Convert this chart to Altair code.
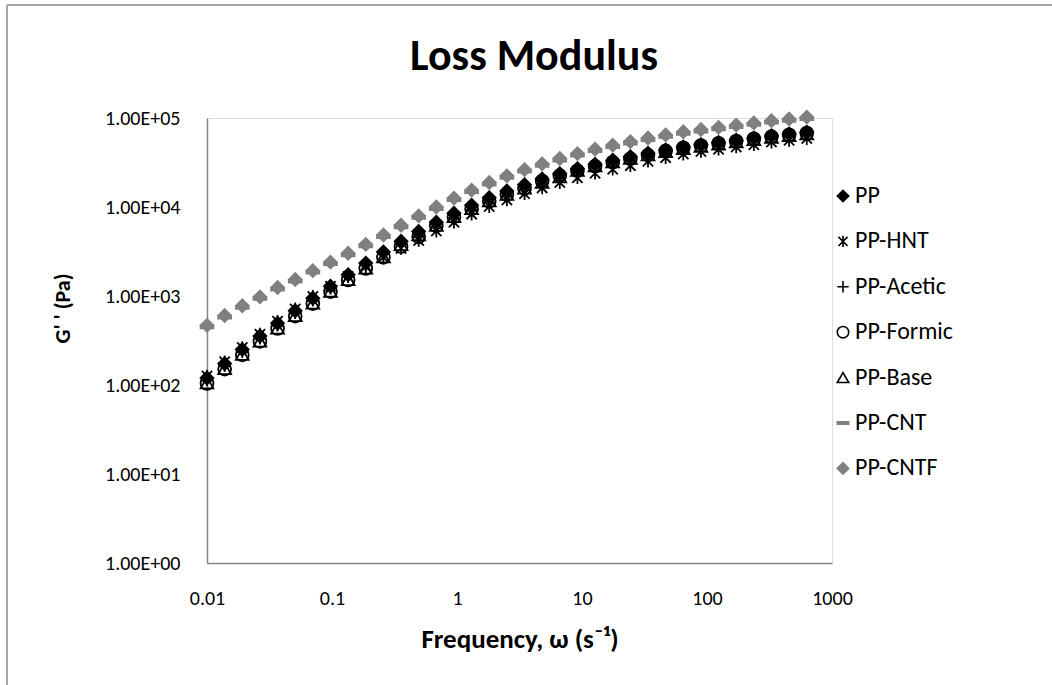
import altair as alt
import pandas as pd

# angular frequency (rad/s)
freq = [0.01, 0.01384, 0.01915, 0.02651, 0.03668, 0.05076, 0.07025, 0.09723,
        0.1346, 0.1863, 0.2578, 0.3567, 0.4937, 0.6832, 0.9456, 1.309, 1.811,
        2.506, 3.469, 4.800, 6.643, 9.194, 12.72, 17.61, 24.37, 33.73, 46.68,
        64.60, 89.41, 123.7, 171.2, 237.0, 328.0, 453.9, 628.3]

# loss modulus G'' (Pa)
pp = [120, 174, 251, 355, 495, 684, 944, 1288, 1738, 2344, 3126, 4121, 5309,
      6761, 8511, 10470, 12740, 15140, 17780, 20650, 23710, 26920, 30200, 33500,
      36730, 40270, 43650, 47320, 50120, 53090, 56230, 59570, 63100, 66070, 69180]
pp_hnt = [126, 182, 263, 372, 519, 716, 989, 1288, 1660, 2138, 2723, 3428, 4217,
          5370, 6761, 8318, 10120, 12020, 14130, 16410, 18840, 21380, 23990, 26610,
          29170, 32730, 35890, 39360, 42170, 44670, 47320, 50120, 53700, 56230, 58880]
pp_acetic = [114, 165, 238, 337, 470, 650, 897, 1224, 1651, 2227, 2970, 3915, 5044,
             6423, 8085, 9947, 12100, 14380, 16890, 19620, 22520, 25570, 28690, 31830,
             34890, 38260, 41470, 44950, 47610, 50440, 53420, 56590, 59950, 62770, 65720]
pp_formic = [104, 151, 218, 309, 431, 595, 821, 1121, 1512, 2039, 2720, 3585, 4619,
             6153, 7745, 9528, 11590, 13780, 16180, 19620, 22520, 25570, 28690, 31830,
             34890, 38260, 42780, 46370, 49120, 52030, 55110, 58380, 61840, 64750, 67800]
pp_base = [106, 153, 221, 312, 436, 602, 831, 1133, 1529, 2063, 2751, 3791, 4884,
           6220, 7830, 9632, 11720, 13930, 16360, 19000, 21810, 25840, 28990, 32160,
           35260, 38660, 41900, 45430, 48120, 50970, 53980, 57190, 60580, 63430, 66410]
pp_cnt = [449, 579, 745, 938, 1195, 1470, 1851, 2303, 2899, 3650, 4648, 5988, 7625,
          9600, 12090, 14870, 18090, 21490, 25250, 29330, 33680, 38220, 42880, 47570,
          52160, 57190, 61990, 67180, 71160, 75380, 79850, 84580, 89600, 93810, 98210]
pp_cntf = [468, 603, 776, 977, 1245, 1531, 1928, 2399, 3020, 3802, 4842, 6237, 7943,
           10000, 12590, 15490, 18840, 22390, 26300, 30550, 35080, 39810, 44670, 49550,
           54330, 59570, 64570, 69980, 74130, 78520, 83180, 88100, 93330, 97720, 102300]

series_names = ["PP", "PP-HNT", "PP-Acetic", "PP-Formic", "PP-Base", "PP-CNT", "PP-CNTF"]
series_values = [pp, pp_hnt, pp_acetic, pp_formic, pp_base, pp_cnt, pp_cntf]

x_ticks = [0.01, 0.1, 1, 10, 100, 1000]
y_ticks = [1, 10, 100, 1000, 10000, 100000]
chart_title = "Loss Modulus"

rows = []
for i, (name, vals) in enumerate(zip(series_names, series_values)):
    for f, v in zip(freq, vals):
        rows.append({"freq": f, "G": v, "series": name, "ord": i})
df = pd.DataFrame(rows)

FONT = "Calibri, Carlito, Lato, sans-serif"
AXIS_GRAY = "#868686"
GRAY = "#808080"

ASTER = "M-0.8,-0.8L0.8,0.8M-0.8,0.8L0.8,-0.8M0,-1L0,1"
PLUS = "M-1,0L1,0M0,-1L0,1"
DASH = "M-1,-0.22L1,-0.22L1,0.22L-1,0.22Z"
shapes = ["diamond", ASTER, PLUS, "circle", "triangle-up", DASH, "diamond"]
strokes = ["#000000", "#000000", "#000000", "#000000", "#000000", GRAY, GRAY]
fills = ["#000000", "transparent", "transparent", "transparent", "transparent", GRAY, GRAY]

legend = alt.Legend(
    title=None, orient="none", legendX=624, legendY=66,
    labelFont=FONT, labelFontSize=24, labelColor="#000000",
    symbolSize=130, symbolStrokeWidth=1.6, rowPadding=21.4, padding=0,
    labelOffset=0,
)

W, H = 625, 445
PAD_L, PAD_T = 207, 118

points = alt.Chart(df).mark_point(size=165, strokeWidth=1.8, opacity=1).encode(
    x=alt.X("freq:Q",
            scale=alt.Scale(type="log", domain=[0.01, 1000], nice=False),
            axis=alt.Axis(values=x_ticks, format="~g", title="Frequency, ω (s⁻¹)",
                          grid=False, ticks=False, domainColor=AXIS_GRAY, domainWidth=1.5,
                          labelFont=FONT, labelFontSize=20, labelColor="#000000",
                          labelPadding=25, labelFlush=False, labelOverlap=False,
                          titleFont=FONT, titleFontSize=27, titleFontWeight="bold",
                          titleColor="#000000", titleY=76, titleBaseline="middle")),
    y=alt.Y("G:Q",
            scale=alt.Scale(type="log", domain=[1, 100000], nice=False),
            axis=alt.Axis(values=y_ticks,
                          labelExpr="'1.00E+0' + format(log(datum.value)/LN10, '.0f')",
                          title="G' ' (Pa)", grid=False, ticks=False,
                          domainColor=AXIS_GRAY, domainWidth=1.5,
                          labelFont=FONT, labelFontSize=20, labelColor="#000000",
                          labelPadding=27, labelOverlap=False,
                          titleFont=FONT, titleFontSize=22, titleFontWeight="bold",
                          titleColor="#000000", titleX=-133, titleY=190)),
    shape=alt.Shape("series:N", scale=alt.Scale(domain=series_names, range=shapes), legend=legend),
    stroke=alt.Stroke("series:N", scale=alt.Scale(domain=series_names, range=strokes), legend=legend),
    fill=alt.Fill("series:N", scale=alt.Scale(domain=series_names, range=fills), legend=legend),
    order=alt.Order("ord:Q"),
)

title_text = alt.Chart(alt.Data(values=[{"t": chart_title}])).mark_text(
    font=FONT, fontSize=44, fontWeight="bold", color="#000000",
    align="center", baseline="middle"
).encode(text="t:N", x=alt.value(327), y=alt.value(-61))

frame = alt.Chart(alt.Data(values=[{}])).mark_rule(color="#a6a6a6", strokeWidth=2).encode(
    x=alt.value(-200), y=alt.value(-113), y2=alt.value(H + 200)
)
frame_top = alt.Chart(alt.Data(values=[{}])).mark_rule(color="#a6a6a6", strokeWidth=2).encode(
    x=alt.value(-200), x2=alt.value(W + 220), y=alt.value(-113)
)

chart = alt.layer(frame, frame_top, title_text, points).properties(
    width=W, height=H,
    padding={"left": PAD_L, "top": PAD_T, "right": 1052 - PAD_L - W, "bottom": 685 - PAD_T - H},
    autosize=alt.AutoSizeParams(type="none"),
).configure_view(stroke=None).configure(background="white")

chart.save("out.html", embed_options={"renderer": "svg", "actions": False})
